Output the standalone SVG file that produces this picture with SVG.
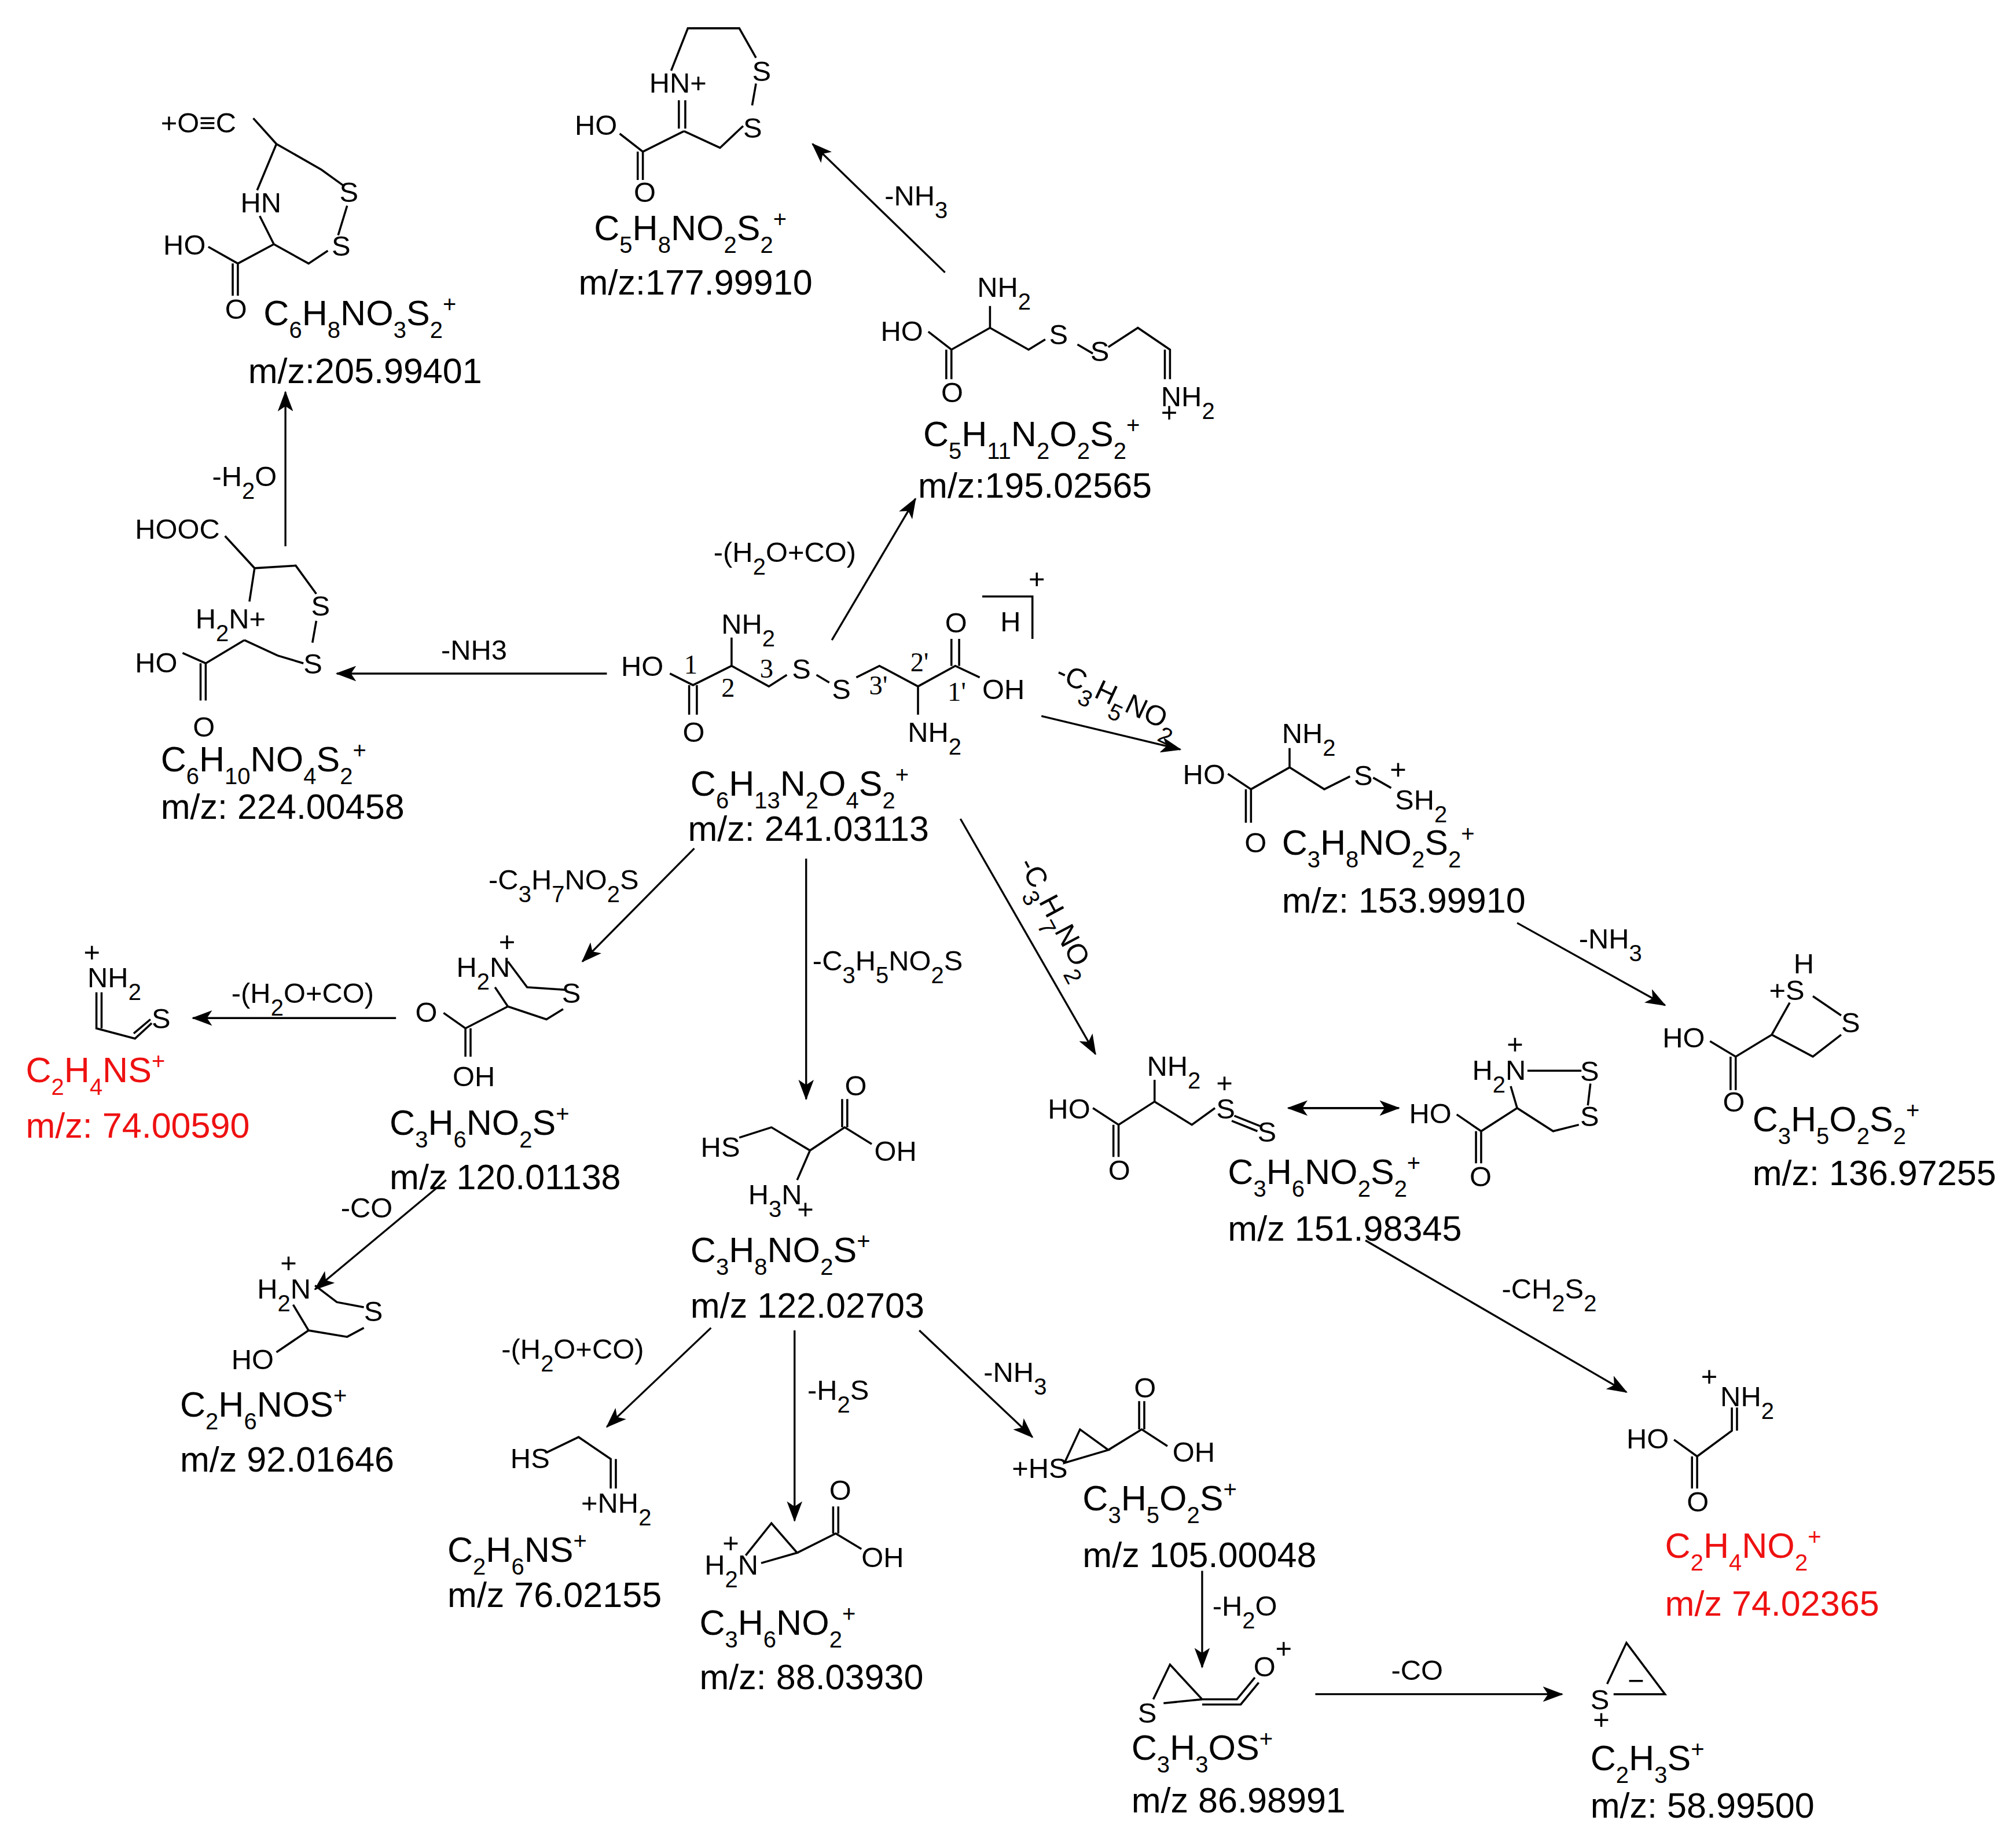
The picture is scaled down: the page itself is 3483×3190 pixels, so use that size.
<svg xmlns="http://www.w3.org/2000/svg" width="3483" height="3190" viewBox="0 0 3483 3190">
<defs>
<style>
.t{font-family:"Liberation Sans",Arial,sans-serif;font-size:27.5px;fill:#000}
.a{font-size:22px}
.n{font-family:"Liberation Serif","Times New Roman",serif;font-size:21px}
.r{fill:#ee1111}
.s{font-size:18px;baseline-shift:sub}
.p{font-size:18px;baseline-shift:super}
.b{stroke:#000;stroke-width:1.6;fill:none}
.c{stroke:#000;stroke-width:1.5;fill:none;marker-end:url(#ah)}
</style>
<marker id="ah" markerUnits="userSpaceOnUse" markerWidth="16" markerHeight="12" refX="15" refY="6" orient="auto"><path d="M0,0 L16,6 L0,12 L4,6 Z" fill="#000"/></marker>
</defs>
<rect width="3483" height="3190" fill="#fff"/>
<g transform="scale(2.2213)">
<g id="connectors">
<line class="c" x1="735" y1="212" x2="632" y2="112"/>
<line class="c" x1="647" y1="498" x2="712" y2="388"/>
<line class="c" x1="472" y1="524" x2="262" y2="524"/>
<line class="c" x1="222" y1="425" x2="222" y2="305"/>
<line class="c" x1="810" y1="557" x2="918" y2="583"/>
<line class="c" x1="1180" y1="718" x2="1295" y2="782"/>
<line class="c" x1="747" y1="637" x2="852" y2="820"/>
<line class="c" x1="1010" y1="862" x2="1088" y2="862"/>
<line class="c" x1="1080" y1="862" x2="1002" y2="862"/>
<line class="c" x1="1062" y1="965" x2="1265" y2="1083"/>
<line class="c" x1="540" y1="660" x2="453" y2="748"/>
<line class="c" x1="308" y1="792" x2="150" y2="792"/>
<line class="c" x1="347" y1="918" x2="245" y2="1003"/>
<line class="c" x1="627" y1="668" x2="627" y2="855"/>
<line class="c" x1="553" y1="1033" x2="472" y2="1110"/>
<line class="c" x1="618" y1="1035" x2="618" y2="1183"/>
<line class="c" x1="715" y1="1035" x2="803" y2="1118"/>
<line class="c" x1="935" y1="1222" x2="935" y2="1297"/>
<line class="c" x1="1023" y1="1318" x2="1215" y2="1318"/>
</g>
<g id="labels" class="t a">
<text x="688" y="160">-NH<tspan class="s">3</tspan></text>
<text x="555" y="437">-(H<tspan class="s">2</tspan>O+CO)</text>
<text x="343" y="513">-NH3</text>
<text x="165" y="378">-H<tspan class="s">2</tspan>O</text>
<text transform="translate(820,528) rotate(25)">-C<tspan class="s">3</tspan>H<tspan class="s">5</tspan>NO<tspan class="s">2</tspan></text>
<text x="1228" y="738">-NH<tspan class="s">3</tspan></text>
<text transform="translate(792,672) rotate(62)">-C<tspan class="s">3</tspan>H<tspan class="s">7</tspan>NO<tspan class="s">2</tspan></text>
<text x="1168" y="1010">-CH<tspan class="s">2</tspan>S<tspan class="s">2</tspan></text>
<text x="380" y="692">-C<tspan class="s">3</tspan>H<tspan class="s">7</tspan>NO<tspan class="s">2</tspan>S</text>
<text x="180" y="780">-(H<tspan class="s">2</tspan>O+CO)</text>
<text x="265" y="947">-CO</text>
<text x="632" y="755">-C<tspan class="s">3</tspan>H<tspan class="s">5</tspan>NO<tspan class="s">2</tspan>S</text>
<text x="390" y="1057">-(H<tspan class="s">2</tspan>O+CO)</text>
<text x="628" y="1089">-H<tspan class="s">2</tspan>S</text>
<text x="765" y="1075">-NH<tspan class="s">3</tspan></text>
<text x="943" y="1257">-H<tspan class="s">2</tspan>O</text>
<text x="1082" y="1307">-CO</text>
</g>
<g id="n1">
<text class="t a" x="125" y="103">+O≡C</text>
<path class="b" d="M197,92 L215,112 L250,132 L268,145 M270,160 L263,183 M255,195 L240,205 L213,190 L202,168 M200,148 L215,112 M213,190 L185,205 L162,192 M185,205 L185,230 M181,205 L181,230"/>
<text class="t a" x="187" y="165">HN</text>
<text class="t a" x="264" y="157">S</text>
<text class="t a" x="258" y="199">S</text>
<text class="t a" x="127" y="198">HO</text>
<text class="t a" x="175" y="248">O</text>
<text class="t" x="205" y="253">C<tspan class="s">6</tspan>H<tspan class="s">8</tspan>NO<tspan class="s">3</tspan>S<tspan class="s">2</tspan><tspan class="p">+</tspan></text>
<text class="t" x="193" y="298">m/z:205.99401</text>
</g>
<g id="n2">
<path class="b" d="M522,55 L535,22 L575,22 L588,45 M588,65 L585,82 M578,98 L560,115 L532,102 M528,100 L528,78 M533,100 L533,78 M532,102 L500,118 L482,104 M500,118 L500,140 M496,118 L496,140"/>
<text class="t a" x="505" y="72">HN+</text>
<text class="t a" x="585" y="63">S</text>
<text class="t a" x="578" y="107">S</text>
<text class="t a" x="447" y="105">HO</text>
<text class="t a" x="493" y="157">O</text>
<text class="t" x="462" y="187">C<tspan class="s">5</tspan>H<tspan class="s">8</tspan>NO<tspan class="s">2</tspan>S<tspan class="s">2</tspan><tspan class="p">+</tspan></text>
<text class="t" x="450" y="229">m/z:177.99910</text>
</g>
<g id="n3">
<path class="b" d="M722,258 L740,272 L770,255 L770,238 M770,255 L800,272 L813,264 M838,268 L850,275 M862,270 L885,255 L910,272 L910,295 M906,272 L906,295 M740,272 L740,295 M736,272 L736,295"/>
<text class="t a" x="760" y="231">NH<tspan class="s">2</tspan></text>
<text class="t a" x="685" y="265">HO</text>
<text class="t a" x="816" y="268">S</text>
<text class="t a" x="848" y="281">S</text>
<text class="t a" x="903" y="316">NH<tspan class="s">2</tspan></text>
<text class="t a" x="903" y="328">+</text>
<text class="t a" x="732" y="313">O</text>
<text class="t" x="718" y="347">C<tspan class="s">5</tspan>H<tspan class="s">11</tspan>N<tspan class="s">2</tspan>O<tspan class="s">2</tspan>S<tspan class="s">2</tspan><tspan class="p">+</tspan></text>
<text class="t" x="714" y="387">m/z:195.02565</text>
</g>
<g id="n4">
<path class="b" d="M521,524 L539,533 L569,518 L569,496 M569,518 L598,534 L612,525 M635,525 L645,531 M666,527 L684,518 L714,534 L743,518 L762,527 M714,534 L714,556 M536,533 L536,556 M542,533 L542,556 M740,518 L740,497 M746,518 L746,497 M764,464 L803,464 L803,497"/>
<text class="t a" x="483" y="526">HO</text>
<text class="t n" x="532" y="524">1</text>
<text class="t n" x="561" y="542">2</text>
<text class="t n" x="591" y="527">3</text>
<text class="t a" x="561" y="493">NH<tspan class="s">2</tspan></text>
<text class="t a" x="616" y="528">S</text>
<text class="t a" x="647" y="544">S</text>
<text class="t n" x="676" y="540">3'</text>
<text class="t n" x="708" y="522">2'</text>
<text class="t a" x="735" y="492">O</text>
<text class="t n" x="737" y="545">1'</text>
<text class="t a" x="764" y="544">OH</text>
<text class="t a" x="706" y="577">NH<tspan class="s">2</tspan></text>
<text class="t a" x="531" y="577">O</text>
<text class="t a" x="778" y="491">H</text>
<text class="t a" x="800" y="458">+</text>
<text class="t" x="537" y="619">C<tspan class="s">6</tspan>H<tspan class="s">13</tspan>N<tspan class="s">2</tspan>O<tspan class="s">4</tspan>S<tspan class="s">2</tspan><tspan class="p">+</tspan></text>
<text class="t" x="535" y="654">m/z: 241.03113</text>
</g>
<g id="n5">
<path class="b" d="M175,417 L198,442 L230,440 L246,462 M246,483 L243,500 M236,516 L216,510 L190,498 M198,442 L194,468 M190,498 L160,516 L142,508 M160,516 L160,545 M156,516 L156,545"/>
<text class="t a" x="105" y="419">HOOC</text>
<text class="t a" x="152" y="489">H<tspan class="s">2</tspan>N+</text>
<text class="t a" x="242" y="479">S</text>
<text class="t a" x="236" y="524">S</text>
<text class="t a" x="105" y="523">HO</text>
<text class="t a" x="150" y="573">O</text>
<text class="t" x="125" y="600">C<tspan class="s">6</tspan>H<tspan class="s">10</tspan>NO<tspan class="s">4</tspan>S<tspan class="s">2</tspan><tspan class="p">+</tspan></text>
<text class="t" x="125" y="637">m/z: 224.00458</text>
</g>
<g id="n6">
<path class="b" d="M955,602 L973,614 L1003,597 L1003,582 M1003,597 L1030,614 L1050,604 M1068,605 L1082,613 M973,614 L973,640 M969,614 L969,640"/>
<text class="t a" x="997" y="578">NH<tspan class="s">2</tspan></text>
<text class="t a" x="920" y="610">HO</text>
<text class="t a" x="1053" y="611">S</text>
<text class="t a" x="1081" y="606">+</text>
<text class="t a" x="1085" y="630">SH<tspan class="s">2</tspan></text>
<text class="t a" x="968" y="663">O</text>
<text class="t" x="997" y="665">C<tspan class="s">3</tspan>H<tspan class="s">8</tspan>NO<tspan class="s">2</tspan>S<tspan class="s">2</tspan><tspan class="p">+</tspan></text>
<text class="t" x="997" y="710">m/z: 153.99910</text>
</g>
<g id="n7">
<path class="b" d="M1392,780 L1378,805 L1410,822 L1432,805 M1410,775 L1432,790 M1378,805 L1350,822 L1330,810 M1350,822 L1350,848 M1346,822 L1346,848"/>
<text class="t a" x="1395" y="757">H</text>
<text class="t a" x="1376" y="778">+S</text>
<text class="t a" x="1432" y="803">S</text>
<text class="t a" x="1293" y="815">HO</text>
<text class="t a" x="1340" y="865">O</text>
<text class="t" x="1363" y="880">C<tspan class="s">3</tspan>H<tspan class="s">5</tspan>O<tspan class="s">2</tspan>S<tspan class="s">2</tspan><tspan class="p">+</tspan></text>
<text class="t" x="1363" y="922">m/z: 136.97255</text>
</g>
<g id="n8">
<path class="b" d="M850,862 L870,875 L898,857 L898,840 M898,857 L927,875 L945,862 M958,872 L978,880 M960,868 L980,876 M870,875 L870,900 M866,875 L866,900"/>
<text class="t a" x="892" y="837">NH<tspan class="s">2</tspan></text>
<text class="t a" x="815" y="870">HO</text>
<text class="t a" x="946" y="870">S</text>
<text class="t a" x="946" y="850">+</text>
<text class="t a" x="978" y="888">S</text>
<text class="t a" x="862" y="918">O</text>
<path class="b" d="M1188,833 L1230,833 M1237,843 L1235,860 M1228,875 L1208,880 L1180,862 L1175,845 M1180,862 L1152,880 L1133,867 M1152,880 L1152,905 M1148,880 L1148,905"/>
<text class="t a" x="1172" y="820">+</text>
<text class="t a" x="1145" y="840">H<tspan class="s">2</tspan>N</text>
<text class="t a" x="1229" y="841">S</text>
<text class="t a" x="1229" y="876">S</text>
<text class="t a" x="1096" y="874">HO</text>
<text class="t a" x="1143" y="923">O</text>
<text class="t" x="955" y="921">C<tspan class="s">3</tspan>H<tspan class="s">6</tspan>NO<tspan class="s">2</tspan>S<tspan class="s">2</tspan><tspan class="p">+</tspan></text>
<text class="t" x="955" y="965">m/z 151.98345</text>
</g>
<g id="n9">
<path class="b" d="M1302,1120 L1320,1133 L1347,1113 L1347,1095 M1351,1113 L1351,1095 M1320,1133 L1320,1158 M1316,1133 L1316,1158"/>
<text class="t a" x="1323" y="1078">+</text>
<text class="t a" x="1338" y="1094">NH<tspan class="s">2</tspan></text>
<text class="t a" x="1265" y="1127">HO</text>
<text class="t a" x="1312" y="1176">O</text>
<text class="t r" x="1295" y="1212">C<tspan class="s">2</tspan>H<tspan class="s">4</tspan>NO<tspan class="s">2</tspan><tspan class="p">+</tspan></text>
<text class="t r" x="1295" y="1257">m/z 74.02365</text>
</g>
<g id="n10">
<path class="b" d="M395,748 L410,768 L440,770 M438,785 L425,793 L395,783 L385,768 M395,783 L362,800 L345,788 M362,800 L362,822 M366,800 L366,822"/>
<text class="t a" x="388" y="740">+</text>
<text class="t a" x="355" y="760">H<tspan class="s">2</tspan>N</text>
<text class="t a" x="437" y="780">S</text>
<text class="t a" x="323" y="795">O</text>
<text class="t a" x="352" y="845">OH</text>
<text class="t" x="303" y="883">C<tspan class="s">3</tspan>H<tspan class="s">6</tspan>NO<tspan class="s">2</tspan>S<tspan class="p">+</tspan></text>
<text class="t" x="303" y="925">m/z 120.01138</text>
</g>
<g id="n11">
<path class="b" d="M75,772 L75,800 L105,808 L118,796 M79,772 L79,800 M104,804 L117,793"/>
<text class="t a" x="65" y="748">+</text>
<text class="t a" x="68" y="768">NH<tspan class="s">2</tspan></text>
<text class="t a" x="118" y="800">S</text>
<text class="t r" x="20" y="842">C<tspan class="s">2</tspan>H<tspan class="s">4</tspan>NS<tspan class="p">+</tspan></text>
<text class="t r" x="20" y="885">m/z: 74.00590</text>
</g>
<g id="n12">
<path class="b" d="M245,1000 L262,1013 L283,1017 M283,1033 L270,1040 L240,1035 L228,1015 M240,1035 L215,1052"/>
<text class="t a" x="218" y="990">+</text>
<text class="t a" x="200" y="1010">H<tspan class="s">2</tspan>N</text>
<text class="t a" x="283" y="1028">S</text>
<text class="t a" x="180" y="1065">HO</text>
<text class="t" x="140" y="1102">C<tspan class="s">2</tspan>H<tspan class="s">6</tspan>NOS<tspan class="p">+</tspan></text>
<text class="t" x="140" y="1145">m/z 92.01646</text>
</g>
<g id="n13">
<path class="b" d="M575,885 L600,877 L630,895 L657,877 L678,890 M655,877 L655,855 M659,877 L659,855 M630,895 L620,918"/>
<text class="t a" x="657" y="852">O</text>
<text class="t a" x="545" y="900">HS</text>
<text class="t a" x="680" y="903">OH</text>
<text class="t a" x="582" y="937">H<tspan class="s">3</tspan>N</text>
<text class="t a" x="620" y="948">+</text>
<text class="t" x="537" y="982">C<tspan class="s">3</tspan>H<tspan class="s">8</tspan>NO<tspan class="s">2</tspan>S<tspan class="p">+</tspan></text>
<text class="t" x="537" y="1025">m/z 122.02703</text>
</g>
<g id="n14">
<path class="b" d="M425,1130 L450,1118 L475,1135 L475,1158 M479,1135 L479,1158"/>
<text class="t a" x="397" y="1142">HS</text>
<text class="t a" x="452" y="1177">+NH<tspan class="s">2</tspan></text>
<text class="t" x="348" y="1215">C<tspan class="s">2</tspan>H<tspan class="s">6</tspan>NS<tspan class="p">+</tspan></text>
<text class="t" x="348" y="1250">m/z 76.02155</text>
</g>
<g id="n15">
<path class="b" d="M580,1210 L600,1185 L620,1208 L592,1216 M620,1208 L650,1193 L670,1205 M648,1193 L648,1172 M652,1193 L652,1172"/>
<text class="t a" x="645" y="1167">O</text>
<text class="t a" x="562" y="1208">+</text>
<text class="t a" x="548" y="1225">H<tspan class="s">2</tspan>N</text>
<text class="t a" x="670" y="1219">OH</text>
<text class="t" x="544" y="1272">C<tspan class="s">3</tspan>H<tspan class="s">6</tspan>NO<tspan class="s">2</tspan><tspan class="p">+</tspan></text>
<text class="t" x="544" y="1314">m/z: 88.03930</text>
</g>
<g id="n16">
<path class="b" d="M828,1138 L840,1112 L862,1128 Z M862,1128 L888,1112 L908,1125 M886,1112 L886,1090 M890,1112 L890,1090"/>
<text class="t a" x="882" y="1087">O</text>
<text class="t a" x="787" y="1150">+HS</text>
<text class="t a" x="912" y="1137">OH</text>
<text class="t" x="842" y="1175">C<tspan class="s">3</tspan>H<tspan class="s">5</tspan>O<tspan class="s">2</tspan>S<tspan class="p">+</tspan></text>
<text class="t" x="842" y="1219">m/z 105.00048</text>
</g>
<g id="n17">
<path class="b" d="M897,1322 L910,1295 L935,1322 L905,1325 M935,1322 L962,1322 L976,1305 M935,1326 L965,1326 L979,1309"/>
<text class="t a" x="885" y="1340">S</text>
<text class="t a" x="975" y="1304">O</text>
<text class="t a" x="992" y="1290">+</text>
<text class="t" x="880" y="1369">C<tspan class="s">3</tspan>H<tspan class="s">3</tspan>OS<tspan class="p">+</tspan></text>
<text class="t" x="880" y="1410">m/z 86.98991</text>
</g>
<g id="n18">
<path class="b" d="M1250,1310 L1265,1278 L1295,1318 L1255,1318"/>
<text class="t a" x="1237" y="1330">S</text>
<text class="t a" x="1239" y="1345">+</text>
<text class="t a" x="1266" y="1315">−</text>
<text class="t" x="1237" y="1377">C<tspan class="s">2</tspan>H<tspan class="s">3</tspan>S<tspan class="p">+</tspan></text>
<text class="t" x="1237" y="1414">m/z: 58.99500</text>
</g>
</g>
</svg>
